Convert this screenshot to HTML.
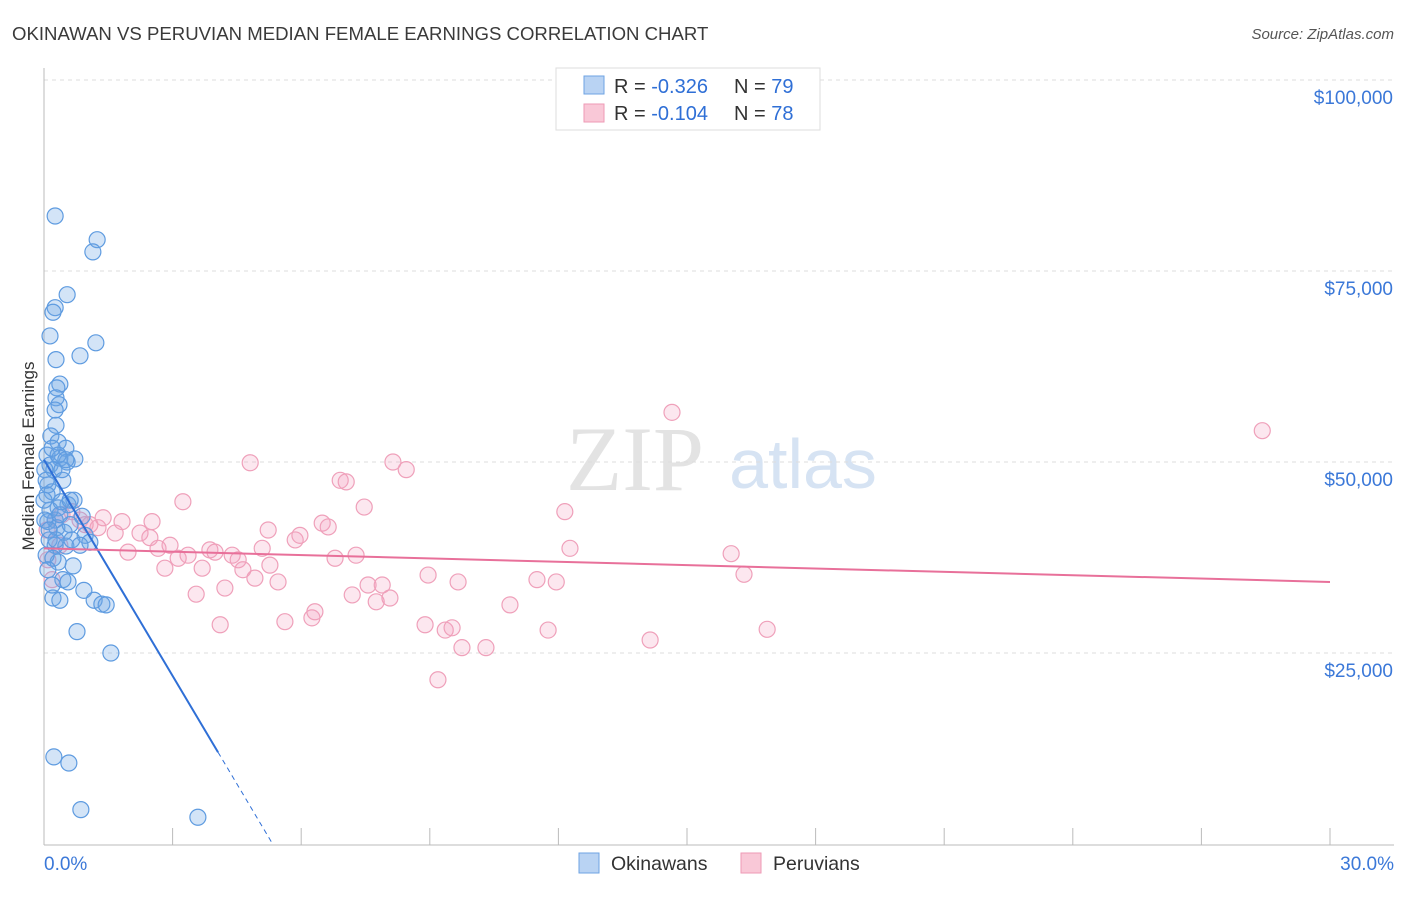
<!DOCTYPE html>
<html><head><meta charset="utf-8"><style>
body{margin:0;background:#fff;font-family:"Liberation Sans",sans-serif;}
</style></head><body>
<svg id="chart" width="1406" height="892" xmlns="http://www.w3.org/2000/svg" font-family="Liberation Sans, sans-serif">
<text x="12" y="40" font-size="18.6" fill="#3a3a3a">OKINAWAN VS PERUVIAN MEDIAN FEMALE EARNINGS CORRELATION CHART</text>
<text x="1394" y="39" font-size="15" fill="#555" text-anchor="end" font-style="italic">Source: ZipAtlas.com</text>
<g><text x="635" y="490" font-size="92" fill="#e3e3e3" font-family="Liberation Serif, serif" text-anchor="middle">ZIP</text><text x="803" y="488" font-size="70" fill="#d6e3f3" text-anchor="middle">atlas</text></g>
<g id="grid"></g><g id="axes"></g><g id="pts"></g><g id="trend"></g>
<text transform="translate(34,456) rotate(-90)" font-size="17" fill="#333" text-anchor="middle">Median Female Earnings</text>
<g>
<rect x="556" y="68" width="264" height="62" fill="#fff" stroke="#ddd"/>
<rect x="584" y="76" width="20" height="18" fill="#b9d3f3" stroke="#6ea3e3"/>
<rect x="584" y="104" width="20" height="18" fill="#f9c8d7" stroke="#ee9ab5"/>
<text x="614" y="93" font-size="20" fill="#333">R = <tspan fill="#2f6fd6">-0.326</tspan><tspan x="734">N = </tspan><tspan fill="#2f6fd6">79</tspan></text>
<text x="614" y="120" font-size="20" fill="#333">R = <tspan fill="#2f6fd6">-0.104</tspan><tspan x="734">N = </tspan><tspan fill="#2f6fd6">78</tspan></text>
</g>
<g>
<rect x="579" y="853" width="20" height="20" fill="#b9d3f3" stroke="#6ea3e3"/>
<text x="611" y="870" font-size="19.5" fill="#333">Okinawans</text>
<rect x="741" y="853" width="20" height="20" fill="#f9c8d7" stroke="#ee9ab5"/>
<text x="773" y="870" font-size="19.5" fill="#333">Peruvians</text>
</g>
</svg>
<script>
const xTicks=[0,3,6,9,12,15,18,21,24,27,30];
const yTicks=[25000,50000,75000,100000];
const yTickLabels=["$25,000","$50,000","$75,000","$100,000"];
const okiX=[0.26,1.24,1.14,0.54,0.26,0.21,0.14,1.21,0.84,0.28,0.37,0.30,0.28,0.35,0.26,0.28,0.16,0.33,0.51,0.07,0.37,0.72,0.54,0.14,0.23,0.44,0.09,0.19,0.70,0.56,0.33,0.26,0.89,0.09,0.30,0.47,0.12,0.51,0.21,0.33,0.68,0.44,0.56,0.93,1.17,1.35,1.45,0.21,0.37,0.77,1.56,0.23,0.58,0.86,3.59,0.02,0.05,0.07,0.14,0.37,0.61,0.96,0.26,0.05,0.09,0.19,0.42,0.33,0.02,0.12,0.65,1.07,0.51,0,0.28,0.40,0.61,0.84,0.19];
const okiY=[82200,79100,77500,71900,70200,69600,66500,65600,63900,63400,60200,59700,58400,57500,56800,54800,53400,52600,51800,50900,50500,50400,50000,49600,49000,47600,47000,46100,45000,44400,44000,42400,42900,42200,41400,40800,39800,39000,37400,36900,36400,34600,34300,33200,31900,31400,31300,32200,31900,27800,25000,11400,10600,4500,3500,49000,47600,45700,43700,43100,41800,40400,39100,37800,35900,33900,49000,50900,42400,41100,39800,39500,50300,45000,39800,44800,45000,39100,51800];
const peruX=[0.07,0.26,0.42,0.65,0.84,1.07,1.26,1.38,1.66,1.96,1.82,2.24,2.47,2.52,2.66,2.82,2.94,3.13,3.24,3.36,3.55,3.69,3.87,3.99,4.11,4.22,4.39,4.53,4.64,4.81,4.92,5.09,5.23,5.27,5.46,5.62,5.86,5.97,6.25,6.32,6.49,6.63,6.79,6.91,7.05,7.19,7.28,7.47,7.56,7.75,7.89,8.07,8.14,8.45,8.89,8.96,9.36,9.52,9.66,9.75,9.19,10.31,10.87,11.50,11.76,11.95,12.15,12.27,14.65,14.14,16.03,16.33,16.87,28.42,0.09,0.19,0.37,0.96];
const peruY=[41100,42400,43100,43500,42400,41800,41400,42700,40700,38200,42200,40700,40100,42200,38700,36100,39100,37400,44800,37800,32700,36100,38500,38200,28700,33500,37800,37200,35900,49900,34800,38700,41100,36500,34300,29100,39800,40400,29600,30400,42000,41500,37400,47600,47400,32600,37800,44100,33900,31700,33900,32200,50000,49000,28700,35200,28000,28300,34300,25700,21500,25700,31300,34600,28000,34300,43500,38700,56500,26700,38000,35300,28100,54100,37200,34600,39100,41800];
const okiTrend=[50300,-9430];
const peruTrend=[38700,34300];
const NS="http://www.w3.org/2000/svg";
const X=v=>44+v/30*1286, Y=v=>844-v/25000*191;
function mk(p,t,a){const e=document.createElementNS(NS,t);for(const k in a)e.setAttribute(k,a[k]);p.appendChild(e);return e;}
const grid=document.getElementById('grid'),axes=document.getElementById('axes'),pts=document.getElementById('pts'),tr=document.getElementById('trend');
yTicks.forEach((t,i)=>{
 const l=mk(grid,'line',{x1:44,x2:1394,y1:Y(t),y2:Y(t),stroke:'#ddd','stroke-dasharray':'4,4'});
 
 
 const tx=mk(axes,'text',{x:1393,y:Y(t)+24,'font-size':19,fill:'#3b78d8','text-anchor':'end'});tx.textContent=yTickLabels[i];
 
 
});
mk(axes,'line',{x1:44,x2:44,y1:68,y2:845,stroke:'#bbb'});
mk(axes,'line',{x1:44,x2:1394,y1:845,y2:845,stroke:'#bbb'});
xTicks.forEach(t=>{const l=mk(axes,'line',{x1:X(t),x2:X(t),y1:828,y2:845,stroke:'#bbb'});
 
 });
const xl0=mk(axes,'text',{x:44,y:870,'font-size':19,fill:'#3b78d8'});xl0.textContent='0.0%';


const xl1=mk(axes,'text',{x:1394,y:870,'font-size':19,fill:'#3b78d8','text-anchor':'end'});xl1.textContent='30.0%';


peruX.forEach((x,i)=>{const c=mk(pts,'circle',{cx:X(x),cy:Y(peruY[i]),r:8,fill:'rgba(244,160,190,0.25)',stroke:'#efa0ba','stroke-width':1.2});
 
 });
okiX.forEach((x,i)=>{const c=mk(pts,'circle',{cx:X(x),cy:Y(okiY[i]),r:8,fill:'rgba(110,165,230,0.3)',stroke:'#5e9be0','stroke-width':1.2});
 
 });
const oz=-okiTrend[0]/okiTrend[1], os=4.06;
const b1=mk(tr,'line',{x1:X(0),y1:Y(okiTrend[0]),x2:X(os),y2:Y(okiTrend[0]+okiTrend[1]*os),stroke:'#2f6fd6','stroke-width':2});


const b2=mk(tr,'line',{x1:X(os),y1:Y(okiTrend[0]+okiTrend[1]*os),x2:X(oz),y2:Y(0),stroke:'#2f6fd6','stroke-width':1,'stroke-dasharray':'5,4'});


const p1=mk(tr,'line',{x1:X(0),y1:Y(peruTrend[0]),x2:X(30),y2:Y(peruTrend[1]),stroke:'#e8709a','stroke-width':2});


</script>
</body></html>
